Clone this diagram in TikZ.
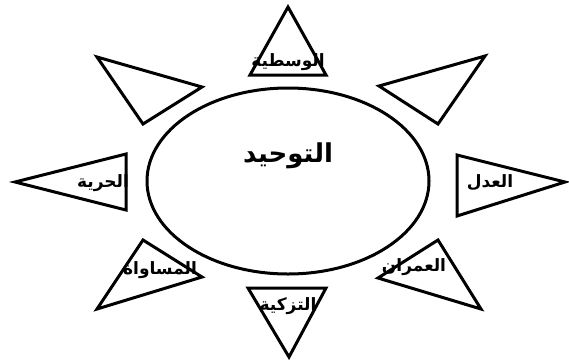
\documentclass[tikz,border=0pt]{standalone}
\usepackage{fontspec}
\usetikzlibrary{shapes.geometric}
\TeXXeTstate=1
\newfontfamily\arabicfont[Script=Arabic]{DejaVu Sans}
\tikzset{
  ray/.style={draw=black, line width=3pt, line join=miter},
  lab/.style={font=\arabicfont\bfseries\fontsize{17}{20}\selectfont, inner sep=0pt},
  hub/.style={ellipse, draw=black, line width=3pt, minimum width=282pt, minimum height=186pt}
}
\begin{document}
\begin{tikzpicture}[x=1pt,y=-1pt]
\useasboundingbox (0,0) rectangle (569,362);
% central ellipse
\node[hub] (hub) at (288,181) {};
\node[font=\arabicfont\bfseries\fontsize{26}{30}\selectfont, inner sep=0pt] (tawhid) at (288,156) {\beginR التوحيد\endR};
% rays
\draw[ray] (288,7) -- (326,75) -- (250,75) -- cycle;
\draw[ray] (379,86) -- (485,56) -- (438,124) -- cycle;
\draw[ray] (97,57) -- (202,87) -- (143,124) -- cycle;
\draw[ray] (15,182) -- (126,154) -- (126,210) -- cycle;
\draw[ray] (565,182) -- (457,155) -- (457,216) -- cycle;
\draw[ray] (143,240) -- (202,277) -- (97,309) -- cycle;
\draw[ray] (438,240) -- (378,278) -- (481,309) -- cycle;
\draw[ray] (248,288) -- (326,288) -- (289,357) -- cycle;
% labels
\node[lab] (wasat) at (288,62) {\beginR الوسطية\endR};
\node[lab] (hurr) at (103,183) {\beginR الحرية\endR};
\node[lab] (adl) at (490,183) {\beginR العدل\endR};
\node[lab] (musa) at (160,270) {\beginR المساواة\endR};
\node[lab] (umran) at (414,267) {\beginR العمران\endR};
\node[lab] (tazk) at (288,306) {\beginR التزكية\endR};
\end{tikzpicture}
\end{document}
